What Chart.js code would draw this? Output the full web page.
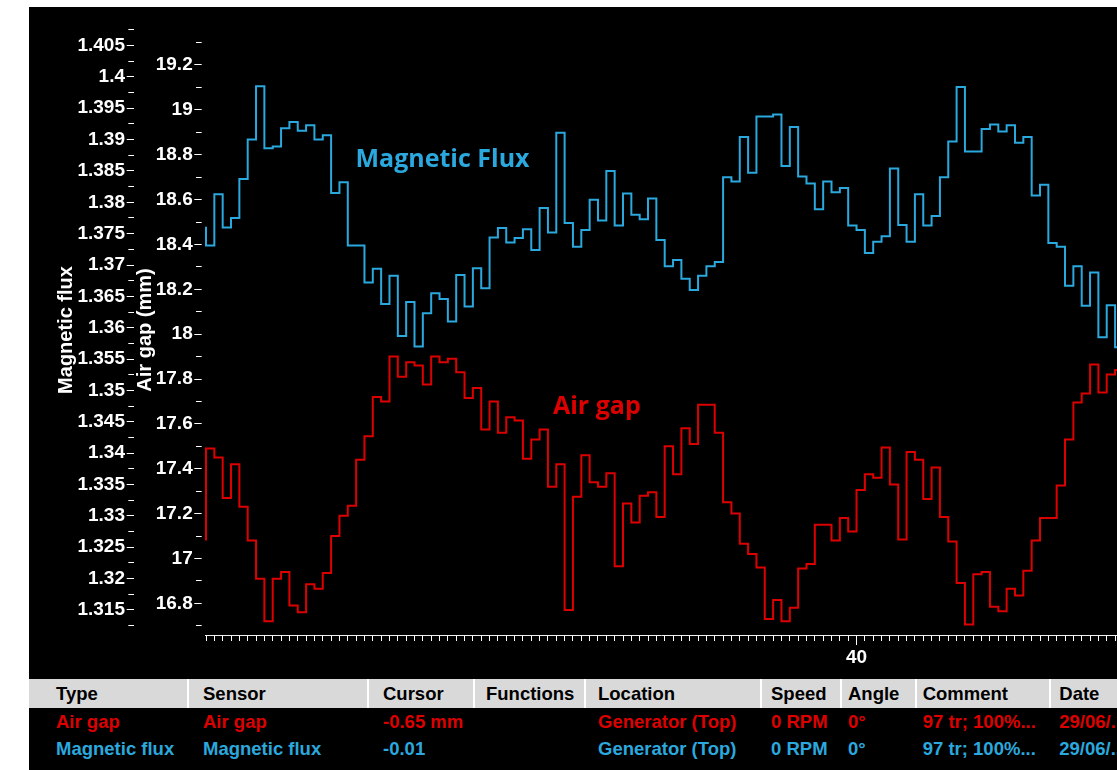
<!DOCTYPE html>
<html>
<head>
<meta charset="utf-8">
<title>Air gap and magnetic flux</title>
<script src="https://cdn.jsdelivr.net/npm/chart.js@4/dist/chart.umd.min.js"></script>
<style>
  html, body { margin: 0; padding: 0; background: #fff; }
  #panel {
    position: absolute; left: 29px; top: 7px; width: 1088px; height: 763px;
    background: #000; overflow: hidden;
    font-family: 'Liberation Sans', Arial, sans-serif; font-weight: bold; font-size: 18.5px;
  }
  #chart { position: absolute; left: 0; top: 0; }
  .band { position: absolute; left: 0; top: 672px; width: 1088px; height: 29px; background: #d9d9d9; }
  .sep { position: absolute; top: 672px; height: 29px; width: 2px; background: #fff; }
  .cell { position: absolute; line-height: 20px; white-space: nowrap; }
</style>
</head>
<body>
<div id="panel">
  <canvas id="chart" width="1088" height="672"></canvas>
</div>
<script>
// Sample positions on the x axis (one sample every quarter unit)
const sampleStart = 20.5;
const sampleStep = 0.25;

// Air gap readings (mm), one per sample
const airGap = [
  17.08, 17.49, 17.45, 17.27, 17.42, 17.23, 17.08, 16.91, 16.72, 16.91,
  16.94, 16.79, 16.76, 16.885, 16.865, 16.935, 17.10, 17.19, 17.235, 17.44,
  17.545, 17.72, 17.70, 17.90, 17.81, 17.875, 17.86, 17.775, 17.90, 17.875,
  17.89, 17.83, 17.715, 17.76, 17.575, 17.70, 17.56, 17.63, 17.615, 17.445,
  17.53, 17.575, 17.32, 17.42, 16.77, 17.275, 17.46, 17.34, 17.32, 17.38,
  16.965, 17.245, 17.16, 17.28, 17.295, 17.185, 17.50, 17.375, 17.58, 17.51,
  17.685, 17.685, 17.56, 17.25, 17.20, 17.065, 17.02, 16.96, 16.73, 16.815,
  16.72, 16.78, 16.955, 16.975, 17.15, 17.15, 17.08, 17.18, 17.12, 17.305,
  17.375, 17.36, 17.495, 17.33, 17.085, 17.475, 17.44, 17.265, 17.405, 17.185,
  17.075, 16.89, 16.705, 16.93, 16.94, 16.785, 16.765, 16.865, 16.835, 16.945,
  17.08, 17.18, 17.18, 17.325, 17.53, 17.695, 17.735, 17.865, 17.74, 17.82,
  17.84
];

// Magnetic flux readings, one per sample
const magneticFlux = [
  1.3761, 1.3731, 1.3813, 1.3760, 1.3775, 1.3837, 1.3900, 1.3985, 1.3886, 1.3889,
  1.3918, 1.3928, 1.3914, 1.3923, 1.3900, 1.3907, 1.3815, 1.3832, 1.3731, 1.3731,
  1.3672, 1.3694, 1.3638, 1.3683, 1.3587, 1.3641, 1.3570, 1.3623, 1.3655, 1.3646,
  1.3610, 1.3684, 1.3634, 1.3695, 1.3663, 1.3744, 1.3759, 1.3736, 1.3743, 1.3757,
  1.3724, 1.3791, 1.3752, 1.3911, 1.3767, 1.3729, 1.3756, 1.3804, 1.3771, 1.3850,
  1.3763, 1.3814, 1.3780, 1.3773, 1.3806, 1.3740, 1.3698, 1.3708, 1.3678, 1.3660,
  1.3683, 1.3698, 1.3705, 1.3840, 1.3833, 1.3904, 1.3847, 1.3937, 1.3937, 1.3940,
  1.3858, 1.3920, 1.3841, 1.3830, 1.3789, 1.3833, 1.3816, 1.3823, 1.3763, 1.3756,
  1.3719, 1.3737, 1.3746, 1.3854, 1.3764, 1.3737, 1.3813, 1.3763, 1.3778, 1.3840,
  1.3897, 1.3984, 1.3881, 1.3881, 1.3917, 1.3924, 1.3913, 1.3923, 1.3895, 1.3904,
  1.3811, 1.3828, 1.3735, 1.3729, 1.3667, 1.3698, 1.3635, 1.3688, 1.3585, 1.3636,
  1.3569
];

// Labelled ticks of the two value axes and of the x axis
const fluxTickValues = [1.315, 1.32, 1.325, 1.33, 1.335, 1.34, 1.345, 1.35, 1.355, 1.36,
  1.365, 1.37, 1.375, 1.38, 1.385, 1.39, 1.395, 1.4, 1.405];
const gapTickValues = [16.8, 17, 17.2, 17.4, 17.6, 17.8, 18, 18.2, 18.4, 18.6, 18.8, 19, 19.2];
const xLabelValues = [40];

// Bottom information table
const tableColumns = ['Type', 'Sensor', 'Cursor', 'Functions', 'Location', 'Speed', 'Angle', 'Comment', 'Date'];
const airGapRow = ['Air gap', 'Air gap', '-0.65 mm', '', 'Generator (Top)', '0 RPM', '0°', '97 tr; 100%...', '29/06/...'];
const fluxRow = ['Magnetic flux', 'Magnetic flux', '-0.01', '', 'Generator (Top)', '0 RPM', '0°', '97 tr; 100%...', '29/06/...'];

// ---- styling / layout ----
const RED = '#dc0000';
const BLUE = '#2ba8dd';
const TICK_FONT = { family: "'Liberation Sans', Arial, sans-serif", size: 19, weight: 'bold' };
const TITLE_FONT = { family: "'Liberation Sans', Arial, sans-serif", size: 20, weight: 'bold' };

// Minor ticks sit half way between labelled ones, plus one beyond each end
function withMinorTicks(values, decimals) {
  const half = (values[1] - values[0]) / 2;
  const out = [{ value: values[0] - half, lbl: '' }];
  values.forEach((v, i) => {
    out.push({ value: v, lbl: String(Number(v.toFixed(decimals))) });
    out.push({ value: v + half, lbl: '' });
  });
  return out;
}

const points = arr => arr.map((v, i) => ({ x: sampleStart + i * sampleStep, y: v }));

// Series names written beside the curves, anchored in axis units
const seriesNames = [
  { text: 'Magnetic Flux', color: BLUE, axis: 'yFlux', x: 27.59, y: 1.3856 },
  { text: 'Air gap', color: RED, axis: 'yGap', x: 32.215, y: 17.644 }
];

const seriesNamePlugin = {
  id: 'seriesNames',
  afterDatasetsDraw(chart) {
    const ctx = chart.ctx;
    ctx.save();
    ctx.font = "bold 25px 'Open Sans', sans-serif";
    ctx.textAlign = 'center';
    ctx.textBaseline = 'alphabetic';
    seriesNames.forEach(n => {
      ctx.fillStyle = n.color;
      ctx.fillText(n.text, chart.scales.x.getPixelForValue(n.x), chart.scales[n.axis].getPixelForValue(n.y));
    });
    ctx.restore();
  }
};

new Chart(document.getElementById('chart'), {
  type: 'line',
  data: {
    datasets: [
      {
        label: 'Magnetic flux', yAxisID: 'yFlux', data: points(magneticFlux),
        borderColor: BLUE, borderWidth: 2, stepped: 'after', pointRadius: 0, fill: false, tension: 0
      },
      {
        label: 'Air gap', yAxisID: 'yGap', data: points(airGap),
        borderColor: RED, borderWidth: 2, stepped: 'after', pointRadius: 0, fill: false, tension: 0
      }
    ]
  },
  options: {
    responsive: false,
    animation: false,
    events: [],
    layout: { padding: { left: 25.5, top: 18, right: 0, bottom: 4 } },
    plugins: { legend: { display: false }, tooltip: { enabled: false } },
    scales: {
      x: {
        type: 'linear', position: 'bottom', min: 20.47, max: 47.808,
        afterBuildTicks(scale) {
          const t = [];
          for (let v = sampleStart; v <= scale.max; v += sampleStep) t.push({ value: v });
          scale.ticks = t;
        },
        afterFit(scale) { scale.height = 40; },
        ticks: {
          autoSkip: false, maxRotation: 0, padding: 1, color: '#fff', font: TICK_FONT,
          callback: v => xLabelValues.includes(v) ? String(v) : ''
        },
        grid: {
          drawOnChartArea: false, drawTicks: true, tickLength: 10, tickColor: '#fff', tickWidth: 1,
          tickBorderDash: c => (c.tick && xLabelValues.includes(c.tick.value)) ? [] : [5, 30]
        },
        border: { display: true, color: '#f2f2f2', width: 1 }
      },
      yFlux: {
        type: 'linear', position: 'left', weight: 2, min: 1.31101, max: 1.40827,
        afterBuildTicks(scale) { scale.ticks = withMinorTicks(fluxTickValues, 3); },
        afterFit(scale) { scale.width = 79; },
        title: { display: true, text: 'Magnetic flux', color: '#fff', font: TITLE_FONT, padding: 0 },
        ticks: {
          autoSkip: false, padding: 1.7, color: '#fff', font: TICK_FONT,
          callback: (v, i, t) => t[i].lbl
        },
        grid: {
          drawOnChartArea: false, drawTicks: true, tickLength: 6.8, tickColor: '#fff', tickWidth: 1,
          tickBorderDash: c => (c.tick && c.tick.lbl) ? [] : [0, 1.6, 6, 30]
        },
        border: { display: false }
      },
      yGap: {
        type: 'linear', position: 'left', weight: 1, min: 16.6587, max: 19.3783,
        afterBuildTicks(scale) { scale.ticks = withMinorTicks(gapTickValues, 1); },
        afterFit(scale) { scale.width = 71.5; },
        title: { display: true, text: 'Air gap (mm)', color: '#fff', font: TITLE_FONT, padding: 0 },
        ticks: {
          autoSkip: false, padding: 1.6, color: '#fff', font: TICK_FONT,
          callback: (v, i, t) => t[i].lbl
        },
        grid: {
          drawOnChartArea: false, drawTicks: true, tickLength: 10.7, tickColor: '#fff', tickWidth: 1,
          tickBorderDash: c => (c.tick && c.tick.lbl) ? [7.4, 30] : [0, 1.7, 5.7, 30]
        },
        border: { display: false }
      }
    }
  },
  plugins: [seriesNamePlugin]
});

// ---- information table under the chart ----
const panel = document.getElementById('panel');
const columnLeft = [27, 174, 354, 457, 569, 742, 819, 893.7, 1030.3];
const separatorLeft = [157.7, 337.7, 444, 555, 730.7, 810.7, 885.7, 1020];
const rowTop = { header: 676.6, airGap: 704.9, flux: 731.6 };

const band = document.createElement('div');
band.className = 'band';
panel.appendChild(band);
separatorLeft.forEach(x => {
  const s = document.createElement('div');
  s.className = 'sep';
  s.style.left = x + 'px';
  panel.appendChild(s);
});

function addRow(cells, top, color) {
  cells.forEach((text, i) => {
    if (!text) return;
    const c = document.createElement('div');
    c.className = 'cell';
    c.textContent = text;
    c.style.left = columnLeft[i] + 'px';
    c.style.top = top + 'px';
    c.style.color = color;
    panel.appendChild(c);
  });
}
addRow(tableColumns, rowTop.header, '#000');
addRow(airGapRow, rowTop.airGap, RED);
addRow(fluxRow, rowTop.flux, BLUE);
</script>
</body>
</html>
